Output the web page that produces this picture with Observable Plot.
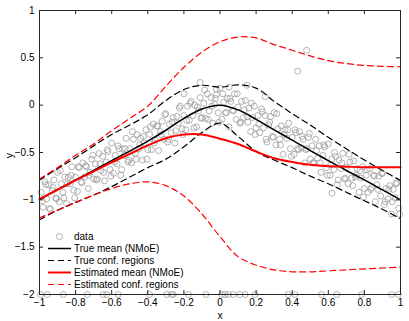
<!DOCTYPE html>
<html><head><meta charset="utf-8">
<script src="https://cdn.jsdelivr.net/npm/d3@7"></script>
<script src="https://cdn.jsdelivr.net/npm/@observablehq/plot@0.6"></script>
<style>body{margin:0;background:#fff;}</style>
</head><body><div id="chart"></div>
<script>
// curve grid (x positions where curves were read)
const gridX = [-1,-0.9,-0.8,-0.7,-0.6,-0.5,-0.4,-0.3,-0.2,-0.1,0,0.1,0.2,0.3,0.4,0.5,0.6,0.7,0.8,0.9,1];
const trueMean  = [-1.0,-0.89,-0.79,-0.69,-0.585,-0.485,-0.38,-0.265,-0.14,-0.04,0.0,-0.05,-0.15,-0.26,-0.37,-0.48,-0.585,-0.69,-0.79,-0.895,-1.0];
const trueUpper = [-0.79,-0.67,-0.555,-0.43,-0.31,-0.21,-0.10,0.05,0.165,0.21,0.19,0.215,0.18,0.04,-0.09,-0.21,-0.34,-0.46,-0.58,-0.69,-0.795];
const trueLower = [-1.21,-1.11,-1.025,-0.95,-0.86,-0.76,-0.66,-0.57,-0.44,-0.29,-0.19,-0.33,-0.49,-0.58,-0.66,-0.75,-0.83,-0.92,-1.01,-1.10,-1.20];
const estMean   = [-0.99,-0.895,-0.795,-0.70,-0.605,-0.515,-0.425,-0.35,-0.31,-0.31,-0.355,-0.41,-0.49,-0.56,-0.60,-0.63,-0.645,-0.65,-0.655,-0.655,-0.655];
const estUpper  = [-0.78,-0.66,-0.53,-0.41,-0.27,-0.14,-0.01,0.20,0.40,0.56,0.67,0.72,0.71,0.64,0.58,0.52,0.47,0.44,0.42,0.41,0.405];
const estLower  = [-1.19,-1.11,-1.03,-0.95,-0.88,-0.83,-0.81,-0.85,-0.96,-1.15,-1.39,-1.60,-1.69,-1.74,-1.76,-1.76,-1.75,-1.74,-1.73,-1.72,-1.71];

// scattered data (read approximately)
const dataX1 = [-0.99,-0.98,-0.97,-0.96,-0.95,-0.94,-0.93,-0.92,-0.91,-0.90,
-0.89,-0.88,-0.87,-0.86,-0.85,-0.84,-0.83,-0.82,-0.81,-0.80,
-0.79,-0.78,-0.77,-0.76,-0.75,-0.74,-0.73,-0.72,-0.71,-0.70,
-0.69,-0.68,-0.67,-0.66,-0.65,-0.64,-0.63,-0.62,-0.61,-0.60,
-0.59,-0.58,-0.57,-0.56,-0.55,-0.54,-0.53,-0.52,-0.51,-0.50,
-0.49,-0.48,-0.47,-0.46,-0.45,-0.44,-0.43,-0.42,-0.41,-0.40,
-0.39,-0.38,-0.37,-0.36,-0.35,-0.34,-0.33,-0.32,-0.31,-0.30,
-0.29,-0.28,-0.27,-0.26,-0.25,-0.24,-0.23,-0.22,-0.21,-0.20,
-0.19,-0.18,-0.17,-0.16,-0.15,-0.14,-0.13,-0.12,-0.11,-0.10,
-0.09,-0.08,-0.07,-0.06,-0.05,-0.04,-0.03,-0.02,-0.01,0.00,
0.01,0.02,0.03,0.04,0.05,0.06,0.07,0.08,0.09,0.10,
0.11,0.12,0.13,0.14,0.15,0.16,0.17,0.18,0.19,0.20,
0.21,0.22,0.23,0.24,0.25,0.26,0.27,0.28,0.29,0.30,
0.31,0.32,0.33,0.34,0.35,0.36,0.37,0.38,0.39,0.40,
0.41,0.42,0.43,0.44,0.45,0.46,0.47,0.48,0.49,0.50,
0.51,0.52,0.53,0.54,0.55,0.56,0.57,0.58,0.59,0.60,
0.61,0.62,0.63,0.64,0.65,0.66,0.67,0.68,0.69,0.70,
0.71,0.72,0.73,0.74,0.75,0.76,0.77,0.78,0.79,0.80,
0.81,0.82,0.83,0.84,0.85,0.86,0.87,0.88,0.89,0.90,
0.91,0.92,0.93,0.94,0.95,0.96,0.97,0.98,0.99];
const dataY1 = [-0.92,-1.08,-0.81,-0.99,-0.84,-1.10,-0.90,-0.79,-0.98,-0.71,
-1.02,-0.83,-0.92,-0.76,-1.04,-0.76,-0.83,-0.65,-0.90,-0.76,
-0.91,-0.66,-0.81,-0.61,-0.76,-0.65,-0.88,-0.71,-0.57,-0.78,
-0.62,-0.78,-0.51,-0.69,-0.54,-0.80,-0.60,-0.49,-0.68,-0.40,
-0.72,-0.53,-0.62,-0.46,-0.74,-0.46,-0.53,-0.35,-0.60,-0.46,
-0.61,-0.36,-0.51,-0.31,-0.46,-0.35,-0.58,-0.40,-0.26,-0.47,
-0.31,-0.47,-0.20,-0.37,-0.22,-0.48,-0.28,-0.17,-0.36,-0.09,
-0.39,-0.20,-0.29,-0.13,-0.40,-0.12,-0.19,-0.01,-0.25,-0.11,
-0.26,-0.01,-0.16,0.04,-0.11,0.00,-0.23,-0.06,0.08,-0.13,
0.02,-0.14,0.12,-0.06,0.08,-0.19,0.01,0.11,-0.08,0.18,
-0.15,0.03,-0.08,0.07,-0.23,0.04,-0.05,0.12,-0.15,-0.02,
-0.19,0.04,-0.13,0.05,-0.12,-0.03,-0.28,-0.13,-0.01,-0.24,
-0.11,-0.29,-0.04,-0.24,-0.11,-0.39,-0.21,-0.12,-0.33,-0.08,
-0.42,-0.25,-0.36,-0.22,-0.52,-0.26,-0.35,-0.19,-0.46,-0.34,
-0.52,-0.29,-0.46,-0.28,-0.45,-0.36,-0.61,-0.46,-0.34,-0.57,
-0.43,-0.61,-0.36,-0.56,-0.43,-0.71,-0.53,-0.44,-0.66,-0.41,
-0.74,-0.57,-0.68,-0.54,-0.84,-0.58,-0.67,-0.51,-0.78,-0.66,
-0.83,-0.60,-0.77,-0.59,-0.76,-0.67,-0.92,-0.77,-0.65,-0.88,
-0.74,-0.92,-0.67,-0.87,-0.74,-1.02,-0.84,-0.75,-0.96,-0.72,
-1.05,-0.88,-0.99,-0.85,-1.15,-0.89,-0.98,-0.82,-1.09];
const dataX2 = [-0.985,-0.965,-0.945,-0.925,-0.905,-0.885,-0.865,-0.845,-0.825,-0.805,
-0.785,-0.765,-0.745,-0.725,-0.705,-0.685,-0.665,-0.645,-0.625,-0.605,
-0.585,-0.565,-0.545,-0.525,-0.505,-0.485,-0.465,-0.445,-0.425,-0.405,
-0.385,-0.365,-0.345,-0.325,-0.305,-0.285,-0.265,-0.245,-0.225,-0.205,
-0.185,-0.165,-0.145,-0.125,-0.105,-0.085,-0.065,-0.045,-0.025,-0.005,
0.015,0.035,0.055,0.075,0.095,0.115,0.135,0.155,0.175,0.195,
0.215,0.235,0.255,0.275,0.295,0.315,0.335,0.355,0.375,0.395,
0.415,0.435,0.455,0.475,0.495,0.515,0.535,0.555,0.575,0.595,
0.615,0.635,0.655,0.675,0.695,0.715,0.735,0.755,0.775,0.795,
0.815,0.835,0.855,0.875,0.895,0.915,0.935,0.955,0.975,0.995];
const dataY2 = [-1.01,-0.84,-1.09,-0.87,-0.99,-0.69,-0.98,-0.83,-0.74,-0.98,
-0.65,-0.82,-0.64,-0.74,-0.53,-0.79,-0.62,-0.71,-0.47,-0.75,
-0.60,-0.43,-0.68,-0.46,-0.58,-0.28,-0.57,-0.42,-0.33,-0.57,
-0.23,-0.40,-0.22,-0.31,-0.10,-0.36,-0.18,-0.27,-0.03,-0.31,
-0.16,0.02,-0.24,-0.02,-0.14,0.16,-0.15,-0.01,0.07,-0.18,
0.12,-0.08,0.07,-0.06,0.12,-0.18,-0.05,-0.18,0.02,-0.31,
-0.20,-0.07,-0.36,-0.18,-0.34,-0.09,-0.42,-0.31,-0.26,-0.54,
-0.26,-0.47,-0.33,-0.47,-0.30,-0.61,-0.48,-0.61,-0.42,-0.74,
-0.63,-0.50,-0.79,-0.61,-0.77,-0.52,-0.85,-0.74,-0.69,-0.97,
-0.68,-0.89,-0.75,-0.89,-0.72,-1.02,-0.89,-1.02,-0.83,-1.15];
const dataX3 = [0.48,0.43,-0.11,0.15,-0.02,0.05,-0.2,0.25,0.62];
const dataY3 = [0.58,0.36,0.24,0.21,0.17,0.19,0.12,0.09,-0.93];
// points lying on the lower limit y = -2
const floorX = [-0.994,-0.957,-0.868,-0.735,-0.647,-0.628,-0.564,-0.39,-0.295,-0.268,-0.259,-0.175,-0.078,0.009,0.028,0.046,0.074,0.11,0.139,0.194,0.378,0.415,0.563,0.647,0.785,0.951,0.988];
const floorY = -2;

const xTicks = [-1,-0.8,-0.6,-0.4,-0.2,0,0.2,0.4,0.6,0.8,1];
const yTicks = [-2,-1.5,-1,-0.5,0,0.5,1];
const legendLabels = ["data","True mean (NMoE)","True conf. regions","Estimated mean (NMoE)","Estimated conf. regions"];

const curve = arr => gridX.map((x,i) => ({x, y: arr[i]}));
const pts = [
  ...dataX1.map((x,i) => ({x, y: dataY1[i]})),
  ...dataX2.map((x,i) => ({x, y: dataY2[i]})),
  ...dataX3.map((x,i) => ({x, y: dataY3[i]})),
  ...floorX.map(x => ({x, y: floorY}))
];
const fmt = d3.format("~g");
const axisColor = "#262626";
const dotColor = "#999999";
const font = "'Liberation Sans', Arial, Helvetica, sans-serif";
const dash = "6,4";

const plot = Plot.plot({
  width: 409, height: 321,
  marginLeft: 39, marginRight: 9, marginTop: 10, marginBottom: 27,
  x: {domain: [-1, 1]},
  y: {domain: [-2, 1]},
  style: {fontFamily: font, fontSize: "10px", background: "#fff", color: "#000"},
  marks: [
    Plot.dot(pts, {x: "x", y: "y", r: 3, stroke: dotColor, strokeWidth: 0.75, fill: "none"}),
    Plot.line(curve(trueMean), {x: "x", y: "y", stroke: "#000", strokeWidth: 1.5, curve: "catmull-rom"}),
    Plot.line(curve(trueUpper), {x: "x", y: "y", stroke: "#000", strokeWidth: 1.2, strokeDasharray: dash, curve: "catmull-rom"}),
    Plot.line(curve(trueLower), {x: "x", y: "y", stroke: "#000", strokeWidth: 1.2, strokeDasharray: dash, curve: "catmull-rom"}),
    Plot.line(curve(estMean), {x: "x", y: "y", stroke: "#ff0000", strokeWidth: 2, curve: "catmull-rom"}),
    Plot.line(curve(estUpper), {x: "x", y: "y", stroke: "#ff0000", strokeWidth: 1.2, strokeDasharray: dash, curve: "catmull-rom"}),
    Plot.line(curve(estLower), {x: "x", y: "y", stroke: "#ff0000", strokeWidth: 1.2, strokeDasharray: dash, curve: "catmull-rom"}),
    Plot.tickX(xTicks, {x: d => d, insetTop: 280, stroke: axisColor}),
    Plot.tickX(xTicks, {x: d => d, insetBottom: 280, stroke: axisColor}),
    Plot.tickY(yTicks, {y: d => d, insetRight: 357, stroke: axisColor}),
    Plot.tickY(yTicks, {y: d => d, insetLeft: 357, stroke: axisColor}),
    Plot.frame({stroke: axisColor}),
    Plot.axisX(xTicks, {tickSize: 0, tickPadding: 4, tickFormat: fmt, label: null, fill: "#000"}),
    Plot.axisY(yTicks, {tickSize: 0, tickPadding: 5, tickFormat: fmt, label: null, fill: "#000"}),
    Plot.text(["x"], {text: d => d, frameAnchor: "bottom", dy: 21, lineAnchor: "middle", fontSize: 10.5, fill: "#000"}),
    Plot.text(["y"], {text: d => d, frameAnchor: "left", dx: -30, dy: 3, rotate: -90, lineAnchor: "middle", textAnchor: "middle", fontSize: 10.5, fill: "#000"})
  ]
});

// legend (inside the axes, lower-left, no box)
const svg = d3.select(plot);
const lg = svg.append("g").attr("font-family", font).attr("font-size", 10).attr("text-anchor", "start");
const rowY = [236.5, 248.5, 260.5, 272.5, 284.5];
const styles = [
  null,
  {stroke: "#000", w: 1.5, dash: null},
  {stroke: "#000", w: 1.2, dash: dash},
  {stroke: "#ff0000", w: 2, dash: null},
  {stroke: "#ff0000", w: 1.2, dash: dash}
];
legendLabels.forEach((lab, i) => {
  const y = rowY[i];
  if (i === 0) {
    lg.append("circle").attr("cx", 59.5).attr("cy", y).attr("r", 3)
      .attr("fill", "none").attr("stroke", dotColor).attr("stroke-width", 0.75);
  } else {
    const s = styles[i];
    const ln = lg.append("line").attr("x1", 48).attr("x2", 71).attr("y1", y).attr("y2", y)
      .attr("stroke", s.stroke).attr("stroke-width", s.w);
    if (s.dash) ln.attr("stroke-dasharray", s.dash);
  }
  lg.append("text").attr("x", 74).attr("y", y).attr("dy", "0.35em")
    .attr("text-anchor", "start").attr("fill", "#000").text(lab);
});

document.getElementById("chart").appendChild(plot);
</script>
</body></html>
